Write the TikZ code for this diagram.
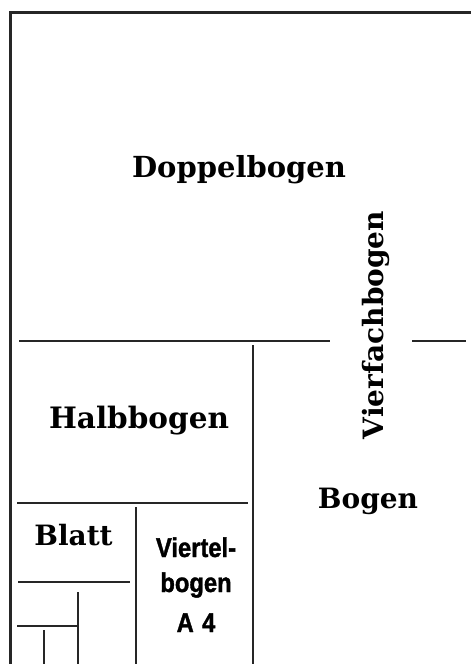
\documentclass[tikz,border=0pt]{standalone}
\usepackage{fontspec}
\setmainfont{DejaVu Serif}
\newfontfamily\condsans[BoldFont={Liberation Sans Bold},BoldFeatures={FakeBold=1.5}]{Liberation Sans}
\begin{document}
\begin{tikzpicture}[x=1pt,y=-1pt,
  rule/.style={line width=2.4pt,draw=black!85},
  lab/.style={inner sep=0pt,anchor=base,font=\bfseries\fontsize{28}{30}\selectfont},
  slab/.style={inner sep=0pt,anchor=base,font=\condsans\bfseries\fontsize{27}{29}\selectfont}]
\useasboundingbox (0,0) rectangle (471,664);
% frame lines
\draw[rule] (10.5,664) -- (10.5,12.5) -- (471,12.5);
\draw[rule] (19,341) -- (330,341);
\draw[rule] (412,341) -- (466,341);
\draw[rule] (253,345) -- (253,664);
\draw[rule] (17,503) -- (248,503);
\draw[rule] (136,507) -- (136,664);
\draw[rule] (18,582) -- (130,582);
\draw[rule] (78,592) -- (78,664);
\draw[rule] (17,626) -- (78,626);
\draw[rule] (44,630) -- (44,664);
% labels
\node[lab,font=\bfseries\fontsize{29}{31}\selectfont] (dop) at (239,177) {Doppelbogen};
\node[lab,font=\bfseries\fontsize{29.5}{31}\selectfont] (halb) at (139,428) {Halbbogen};
\node[lab,rotate=90] (vier) at (383,325) {Vierfachbogen};
\node[lab] (bog) at (368,508) {Bogen};
\node[lab] (blatt) at (73.5,545) {Blatt};
\node[slab] (v1) at (196,557) {\scalebox{0.88}[1]{Viertel-}};
\node[slab] (v2) at (196,592) {\scalebox{0.88}[1]{bogen}};
\node[slab] (v3) at (196,632) {\scalebox{0.88}[1]{A\hspace{0.35em}4}};
\end{tikzpicture}
\end{document}
